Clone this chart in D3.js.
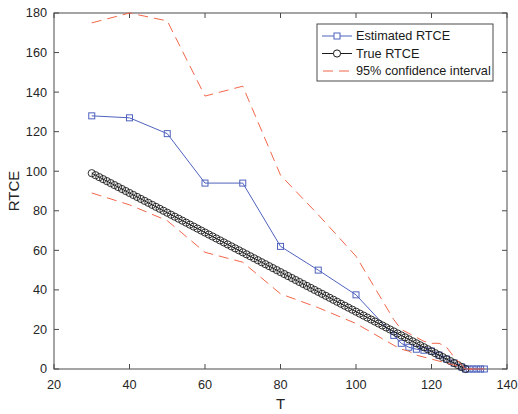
<!DOCTYPE html>
<html>
<head>
<meta charset="utf-8">
<script src="https://cdn.jsdelivr.net/npm/d3@7"></script>
<style>
  body { margin: 0; background: #fff; }
  svg { display: block; font-family: "Liberation Sans", Arial, sans-serif; }
</style>
</head>
<body>
<div id="chart"></div>
<script>
// estimated RTCE (blue squares)
const estT = [30, 40, 50, 60, 70, 80, 90, 100, 110, 112, 114, 116, 118, 120, 122, 124, 126, 128, 129, 130, 131, 132, 133, 134];
const estVal = [128, 127, 119, 94, 94, 62, 50, 37.5, 17, 13, 11, 10, 9.5, 9, 7, 5, 3, 1, 0, 0, 0, 0, 0, 0];

// 95% confidence interval bounds at the same T
const ciUpper = [175, 180, 176, 138, 143, 98, 78, 57, 25, 20, 18, 16, 14, 13, 13, 11, 6, 2, 0, 0, 0, 0, 0, 0];
const ciLower = [89, 83, 75, 59, 54, 38, 31, 23, 12, 10, 9, 7, 6, 5, 4, 3, 2, 1, 0, 0, 0, 0, 0, 0];

// true RTCE (black circles), one per T
const trueT = [30, 31, 32, 33, 34, 35, 36, 37, 38, 39, 40, 41, 42, 43, 44, 45, 46, 47, 48, 49,
  50, 51, 52, 53, 54, 55, 56, 57, 58, 59, 60, 61, 62, 63, 64, 65, 66, 67, 68, 69,
  70, 71, 72, 73, 74, 75, 76, 77, 78, 79, 80, 81, 82, 83, 84, 85, 86, 87, 88, 89,
  90, 91, 92, 93, 94, 95, 96, 97, 98, 99, 100, 101, 102, 103, 104, 105, 106, 107, 108, 109,
  110, 111, 112, 113, 114, 115, 116, 117, 118, 119, 120, 121, 122, 123, 124, 125, 126, 127, 128, 129];
const trueVal = [99, 98, 97, 96, 95, 94, 93, 92, 91, 90, 89, 88, 87, 86, 85, 84, 83, 82, 81, 80,
  79, 78, 77, 76, 75, 74, 73, 72, 71, 70, 69, 68, 67, 66, 65, 64, 63, 62, 61, 60,
  59, 58, 57, 56, 55, 54, 53, 52, 51, 50, 49, 48, 47, 46, 45, 44, 43, 42, 41, 40,
  39, 38, 37, 36, 35, 34, 33, 32, 31, 30, 29, 28, 27, 26, 25, 24, 23, 22, 21, 20,
  19, 18, 17, 16, 15, 14, 13, 12, 11, 10, 9, 8, 7, 6, 5, 4, 3, 2, 1, 0];

const xTicks = [20, 40, 60, 80, 100, 120, 140];
const yTicks = [0, 20, 40, 60, 80, 100, 120, 140, 160, 180];
const legendLabels = ['Estimated RTCE', 'True RTCE', '95% confidence interval'];

const width = 518, height = 414;
const margin = { left: 54, right: 11, top: 13, bottom: 45 };
const blue = '#4f62bd', red = '#f2674a', black = '#1a1a1a', axisCol = '#4a4a4a';

const svg = d3.select('#chart').append('svg')
  .attr('width', width)
  .attr('height', height);

const x = d3.scaleLinear().domain([20, 140]).range([margin.left, width - margin.right]);
const y = d3.scaleLinear().domain([0, 180]).range([height - margin.bottom, margin.top]);

// axes box with inward ticks on all sides
const tickLen = 5;
const axisG = svg.append('g').attr('font-size', 12.7).attr('fill', '#262626');

axisG.append('rect')
  .attr('x', x(20)).attr('y', y(180))
  .attr('width', x(140) - x(20)).attr('height', y(0) - y(180))
  .attr('fill', 'none').attr('stroke', axisCol).attr('stroke-width', 1);

xTicks.forEach(t => {
  axisG.append('line').attr('x1', x(t)).attr('x2', x(t)).attr('y1', y(0)).attr('y2', y(0) - tickLen).attr('stroke', axisCol);
  axisG.append('line').attr('x1', x(t)).attr('x2', x(t)).attr('y1', y(180)).attr('y2', y(180) + tickLen).attr('stroke', axisCol);
  axisG.append('text').attr('x', x(t)).attr('y', y(0) + 19.5).attr('text-anchor', 'middle').text(t);
});

yTicks.forEach(t => {
  axisG.append('line').attr('x1', x(20)).attr('x2', x(20) + tickLen).attr('y1', y(t)).attr('y2', y(t)).attr('stroke', axisCol);
  axisG.append('line').attr('x1', x(140)).attr('x2', x(140) - tickLen).attr('y1', y(t)).attr('y2', y(t)).attr('stroke', axisCol);
  axisG.append('text').attr('x', x(20) - 7).attr('y', y(t)).attr('dy', '0.35em').attr('text-anchor', 'end').text(t);
});

svg.append('text')
  .attr('x', (x(20) + x(140)) / 2).attr('y', height - 5)
  .attr('text-anchor', 'middle').attr('font-size', 15).attr('fill', '#262626')
  .text('T');
svg.append('text')
  .attr('transform', `translate(19,${(y(0) + y(180)) / 2}) rotate(-90)`)
  .attr('text-anchor', 'middle').attr('font-size', 15).attr('fill', '#262626')
  .text('RTCE');

const line = d3.line().x(d => x(d[0])).y(d => y(d[1]));
const sq = 6;

// estimated
const est = estT.map((t, i) => [t, estVal[i]]);
svg.append('path').datum(est).attr('d', line)
  .attr('fill', 'none').attr('stroke', blue).attr('stroke-width', 1);
svg.append('g').selectAll('rect').data(est).join('rect')
  .attr('x', d => x(d[0]) - sq / 2).attr('y', d => y(d[1]) - sq / 2)
  .attr('width', sq).attr('height', sq)
  .attr('fill', 'none').attr('stroke', blue).attr('stroke-width', 1);

// true
const tru = trueT.map((t, i) => [t, trueVal[i]]);
svg.append('path').datum(tru).attr('d', line)
  .attr('fill', 'none').attr('stroke', black).attr('stroke-width', 1);
svg.append('g').selectAll('circle').data(tru).join('circle')
  .attr('cx', d => x(d[0])).attr('cy', d => y(d[1])).attr('r', 3.6)
  .attr('fill', 'none').attr('stroke', black).attr('stroke-width', 0.9);

// confidence interval
[ciUpper, ciLower].forEach(vals => {
  svg.append('path').datum(estT.map((t, i) => [t, vals[i]])).attr('d', line)
    .attr('fill', 'none').attr('stroke', red).attr('stroke-width', 1)
    .attr('stroke-dasharray', '10,6');
});

// legend
const lg = svg.append('g').attr('font-size', 12.7).attr('fill', '#1a1a1a');
lg.append('rect').attr('x', 317).attr('y', 24).attr('width', 176).attr('height', 57)
  .attr('fill', '#fff').attr('stroke', axisCol).attr('stroke-width', 1);
legendLabels.forEach((lab, i) => {
  const ly = 36 + i * 17.5;
  const l = lg.append('line').attr('x1', 322).attr('x2', 352).attr('y1', ly).attr('y2', ly).attr('stroke-width', 1);
  if (i === 0) {
    l.attr('stroke', blue);
    lg.append('rect').attr('x', 337 - sq / 2).attr('y', ly - sq / 2).attr('width', sq).attr('height', sq)
      .attr('fill', '#fff').attr('stroke', blue);
  } else if (i === 1) {
    l.attr('stroke', black);
    lg.append('circle').attr('cx', 337).attr('cy', ly).attr('r', 3.6).attr('fill', '#fff').attr('stroke', black);
  } else {
    l.attr('stroke', red).attr('stroke-dasharray', '10,6').attr('x1', 323);
  }
  lg.append('text').attr('x', 356).attr('y', ly).attr('dy', '0.35em').text(lab);
});
</script>
</body>
</html>
